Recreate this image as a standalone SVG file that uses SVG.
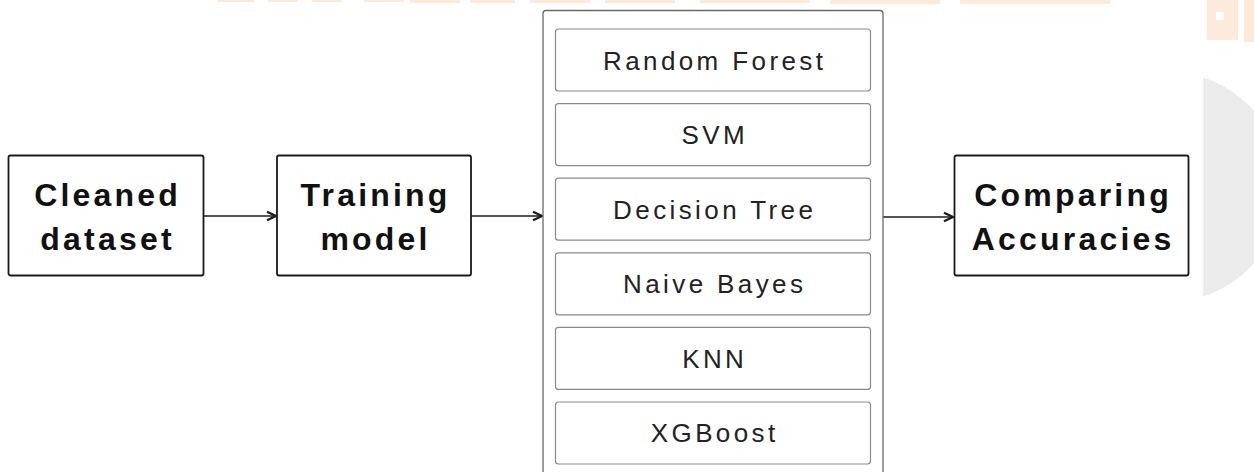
<svg xmlns="http://www.w3.org/2000/svg" width="1254" height="472" viewBox="0 0 1254 472">
  <defs>
    <style>
      .main { fill: #ffffff; stroke: #1a1a1a; stroke-width: 1.8; }
      .algo { fill: #ffffff; stroke: #8a8a8a; stroke-width: 1.2; }
      .outer { fill: #ffffff; stroke: #6a6a6a; stroke-width: 1.3; }
      .bold { font-family: "Liberation Sans", Arial, sans-serif; font-weight: bold; font-size: 32px; fill: #111111; text-anchor: middle; letter-spacing: 3.2px; }
      .reg { font-family: "Liberation Sans", Arial, sans-serif; font-size: 26px; fill: #222222; text-anchor: middle; letter-spacing: 3.4px; }
      .conn { stroke: #1a1a1a; stroke-width: 1.7; fill: none; }
      .deco { fill: #feeadb; }
    </style>
    <marker id="arrow" viewBox="0 0 10 10" refX="9" refY="5" markerWidth="12" markerHeight="12" markerUnits="userSpaceOnUse" orient="auto">
      <path d="M1.5,1.5 L9,5 L1.5,8.5" fill="none" stroke="#1a1a1a" stroke-width="1.9" stroke-linejoin="miter"/>
    </marker>
    <clipPath id="clipRight">
      <rect x="1203" y="0" width="60" height="472"/>
    </clipPath>
  </defs>

  <rect x="0" y="0" width="1254" height="472" fill="#ffffff"/>

  <!-- decorative background remnants -->
  <g id="background">
    <circle cx="1168" cy="187" r="115" fill="#ebebeb" clip-path="url(#clipRight)"/>
    <rect class="deco" x="218" y="0" width="36" height="2"/>
    <rect class="deco" x="268" y="0" width="30" height="2"/>
    <rect class="deco" x="312" y="0" width="30" height="2"/>
    <rect class="deco" x="364" y="0" width="40" height="2"/>
    <rect class="deco" x="410" y="0" width="50" height="3"/>
    <rect class="deco" x="470" y="0" width="45" height="3"/>
    <rect class="deco" x="530" y="0" width="60" height="3"/>
    <rect class="deco" x="605" y="0" width="70" height="3"/>
    <rect class="deco" x="700" y="0" width="110" height="3"/>
    <rect class="deco" x="830" y="0" width="110" height="4"/>
    <rect class="deco" x="960" y="0" width="150" height="4"/>
    <path class="deco" d="M1207,0 L1238,0 L1238,40 L1207,40 Z M1216,12 L1216,20 L1224,20 L1224,12 Z" fill-rule="evenodd"/>
    <rect class="deco" x="1244" y="0" width="10" height="42"/>
  </g>

  <g id="connectors">
    <line class="conn" x1="204" y1="216" x2="276" y2="216" marker-end="url(#arrow)"/>
    <line class="conn" x1="471" y1="216" x2="542" y2="216" marker-end="url(#arrow)"/>
    <line class="conn" x1="883" y1="217" x2="953" y2="217" marker-end="url(#arrow)"/>
  </g>

  <g id="node-cleaned">
    <rect class="main" x="8.5" y="155.5" width="195" height="120" rx="2"/>
    <text class="bold" x="107.6" y="206">Cleaned</text>
    <text class="bold" x="107.6" y="250">dataset</text>
  </g>

  <g id="node-training">
    <rect class="main" x="277" y="155.5" width="194" height="120" rx="2"/>
    <text class="bold" x="375.6" y="206">Training</text>
    <text class="bold" x="375.6" y="250">model</text>
  </g>

  <g id="node-models">
    <rect class="outer" x="543" y="10.5" width="340" height="480" rx="3"/>
    <g id="node-rf">
      <rect class="algo" x="555.5" y="29" width="315" height="62" rx="3"/>
      <text class="reg" x="714.7" y="69.5">Random Forest</text>
    </g>
    <g id="node-svm">
      <rect class="algo" x="555.5" y="103.6" width="315" height="62" rx="3"/>
      <text class="reg" x="714.7" y="144">SVM</text>
    </g>
    <g id="node-dt">
      <rect class="algo" x="555.5" y="178.2" width="315" height="62" rx="3"/>
      <text class="reg" x="714.7" y="218.6">Decision Tree</text>
    </g>
    <g id="node-nb">
      <rect class="algo" x="555.5" y="252.8" width="315" height="62" rx="3"/>
      <text class="reg" x="714.7" y="293.2">Naive Bayes</text>
    </g>
    <g id="node-knn">
      <rect class="algo" x="555.5" y="327.4" width="315" height="62" rx="3"/>
      <text class="reg" x="714.7" y="367.8">KNN</text>
    </g>
    <g id="node-xgb">
      <rect class="algo" x="555.5" y="402" width="315" height="62" rx="3"/>
      <text class="reg" x="714.7" y="442.4">XGBoost</text>
    </g>
  </g>

  <g id="node-comparing">
    <rect class="main" x="954.5" y="155.5" width="234" height="120" rx="2"/>
    <text class="bold" x="1073.1" y="206">Comparing</text>
    <text class="bold" x="1073.1" y="250">Accuracies</text>
  </g>
</svg>
